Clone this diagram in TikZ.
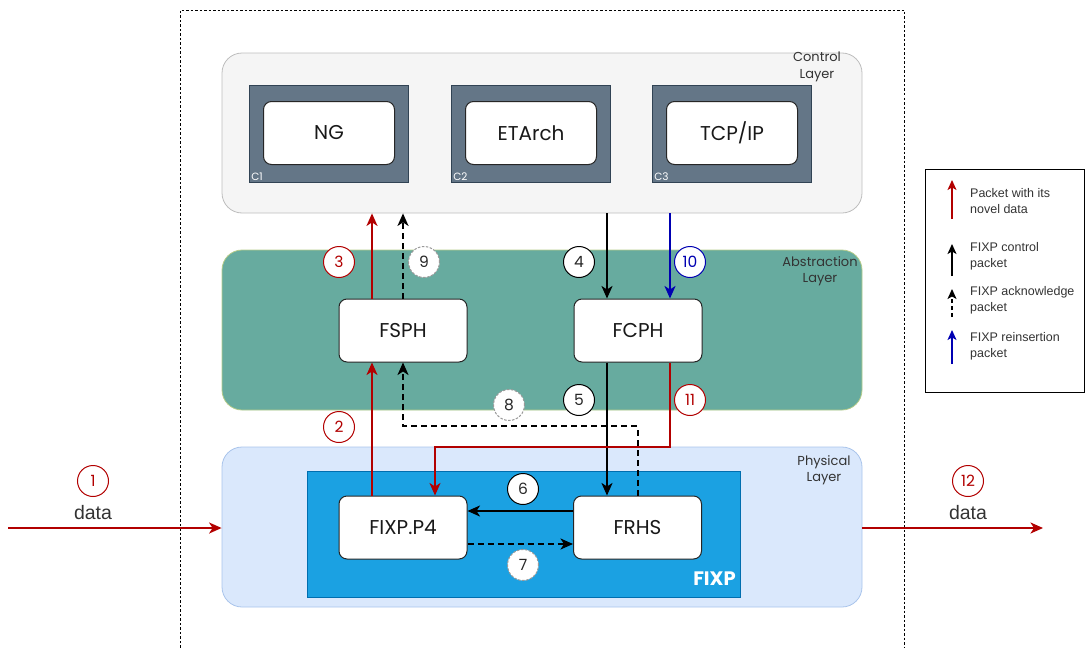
\documentclass[tikz,border=0pt]{standalone}
\usepackage{fontspec}
\setmainfont{Poppins}
\newfontfamily\legendfont{Liberation Sans}
\usetikzlibrary{arrows.meta,calc}

\definecolor{datared}{HTML}{B20000}
\definecolor{reinsblue}{HTML}{0000B2}
\definecolor{ctrlfill}{HTML}{F5F5F5}
\definecolor{ctrlline}{HTML}{BDBDBD}
\definecolor{absfill}{HTML}{67AB9F}
\definecolor{absline}{HTML}{B5CC8A}
\definecolor{phyfill}{HTML}{DAE8FC}
\definecolor{phyline}{HTML}{A9C4EB}
\definecolor{fixpfill}{HTML}{1BA1E2}
\definecolor{fixpline}{HTML}{006EAF}
\definecolor{slate}{HTML}{647687}
\definecolor{slateline}{HTML}{314354}
\definecolor{labelgray}{HTML}{333333}

\tikzset{
  layer/.style={rounded corners=20pt, minimum width=640pt, minimum height=160pt,
    inner sep=0pt, line width=0.8pt},
  layerlabel/.style={align=center, text=labelgray, font=\fontsize{13}{16.5}\selectfont},
  slatebox/.style={fill=slate, draw=slateline, minimum width=159pt, minimum height=97pt,
    inner sep=0pt, line width=0.8pt},
  clabel/.style={anchor=south west, text=white, inner sep=2pt,
    font=\fontsize{10.5}{10.5}\selectfont},
  procbox/.style={draw=black!85, fill=white, rounded corners=8pt, minimum width=128pt,
    minimum height=63pt, inner sep=0pt, line width=1pt, text=black!90,
    font=\fontsize{20}{24}\selectfont},
  num/.style={circle, fill=white, minimum size=31pt, inner sep=0pt, line width=1pt,
    font=\fontsize{15.5}{15.5}\selectfont},
  numred/.style={num, draw=datared, text=datared},
  numblack/.style={num, draw=black, text=black!85},
  numblue/.style={num, draw=reinsblue, text=reinsblue},
  numdash/.style={num, draw=black!40, dash pattern=on 2.5pt off 1.5pt, text=black!85},
  flow/.style={line width=2pt, -{Stealth[length=12.5pt,width=11pt,inset=3.5pt]}},
  ctlflow/.style={flow, draw=black},
  dataflow/.style={flow, draw=datared},
  ackflow/.style={flow, draw=black, dash pattern=on 6pt off 4pt},
  reinsflow/.style={flow, draw=reinsblue},
  legarrow/.style={line width=1.4pt, -{Stealth[length=10pt,width=9pt,inset=2.5pt]}},
  legtext/.style={anchor=west, align=left, text=labelgray, inner sep=0pt,
    font=\legendfont\fontsize{12.5}{16}\selectfont},
  datatext/.style={text=labelgray, font=\legendfont\fontsize{19.5}{19.5}\selectfont},
}

\begin{document}
\begin{tikzpicture}[x=1pt, y=-1pt]
\useasboundingbox (0,0) rectangle (1085,648);

% system boundary
\draw[line width=0.8pt, dash pattern=on 2.5pt off 2pt] (180,670) -- (180,10) -- (904,10) -- (904,670);

% layers
\node[layer, fill=ctrlfill, draw=ctrlline] (ctrl) at (542,133) {};
\node[layer, fill=absfill, draw=absline] (abs) at (542,330) {};
\node[layer, fill=phyfill, draw=phyline] (phy) at (542,527) {};
\node[layerlabel] (ctrllbl) at (817,67) {Control\\Layer};
\node[layerlabel] (abslbl) at (820,271) {Abstraction\\Layer};
\node[layerlabel] (phylbl) at (824,470) {Physical\\Layer};

% control-layer architectures
\node[slatebox] (c1) at (329,133.5) {};
\node[slatebox] (c2) at (531,133.5) {};
\node[slatebox] (c3) at (732,133.5) {};
\node[procbox, minimum width=131pt] (ng) at (329,133) {NG};
\node[procbox, minimum width=131pt] (etarch) at (531,133) {ETArch};
\node[procbox, minimum width=131pt] (tcpip) at (732,133) {TCP/IP};
\node[clabel] (c1lbl) at (c1.south west) {C1};
\node[clabel] (c2lbl) at (c2.south west) {C2};
\node[clabel] (c3lbl) at (c3.south west) {C3};

% abstraction-layer handlers
\node[procbox] (fsph) at (403,330.5) {FSPH};
\node[procbox] (fcph) at (638,330.5) {FCPH};

% physical layer
\node[fill=fixpfill, draw=fixpline, line width=0.6pt, minimum width=433pt, minimum height=126pt,
  inner sep=0pt] (fixp) at (523.5,534) {};
\node[anchor=base east, text=white, inner sep=0pt,
  font=\fontsize{19.5}{19.5}\selectfont\bfseries] (fixplbl) at (736,585) {FIXP};
\node[procbox] (p4) at (403,527.5) {FIXP.P4};
\node[procbox] (frhs) at (637.5,527.5) {FRHS};

% helper coordinates for connector lanes
\coordinate (xa) at (372,0);
\coordinate (xb) at (607,0);
\coordinate (xc) at (670,0);
\coordinate (xd) at (435,0);
\coordinate (ya) at (0,426);
\coordinate (yr) at (0,447);
\coordinate (yu) at (0,511);
\coordinate (yl) at (0,544);
\coordinate (src) at (8,528);
\coordinate (sink) at (1043,528);

% connectors
\draw[dataflow] (p4.north -| xa) -- (fsph.south -| xa);
\draw[dataflow] (fsph.north -| xa) -- (ctrl.south -| xa);
\draw[ackflow] (frhs.north) -- (frhs.north |- ya) -| (fsph.south);
\draw[ackflow] (fsph.north) -- (ctrl.south -| fsph.north);
\draw[ctlflow] (ctrl.south -| xb) -- (fcph.north -| xb);
\draw[ctlflow] (fcph.south -| xb) -- (frhs.north -| xb);
\draw[reinsflow] (ctrl.south -| xc) -- (fcph.north -| xc);
\draw[dataflow] (fcph.south -| xc) -- (xc |- yr) -| (p4.north -| xd);
\draw[ctlflow] (frhs.west |- yu) -- (p4.east |- yu);
\draw[ackflow] (p4.east |- yl) -- (frhs.west |- yl);
\draw[dataflow] (src) -- (phy.west |- src);
\draw[dataflow] (phy.east |- sink) -- (sink);

% step numbers
\node[numred] (n1) at (93,481) {1};
\node[numred] (n2) at (339,427) {2};
\node[numred] (n3) at (339,262) {3};
\node[numblack] (n4) at (579,262) {4};
\node[numblack] (n5) at (579,400) {5};
\node[numblack] (n6) at (523,489) {6};
\node[numdash] (n7) at (523,565) {7};
\node[numdash] (n8) at (509,405) {8};
\node[numdash] (n9) at (424,262) {9};
\node[numblue] (n10) at (690,262) {10};
\node[numred] (n11) at (690,400) {11};
\node[numred] (n12) at (968,481) {12};
\node[datatext] (din) at (93,513) {data};
\node[datatext] (dout) at (968,513) {data};

% legend
\node[draw=black, line width=0.8pt, minimum width=159pt, minimum height=223pt, inner sep=0pt,
  anchor=north west] (legend) at (925,169) {};
\coordinate (l1a) at (952,219); \coordinate (l1b) at (952,180);
\coordinate (l2a) at (952,276); \coordinate (l2b) at (952,244);
\coordinate (l3a) at (952,317); \coordinate (l3b) at (952,289);
\coordinate (l4a) at (952,364); \coordinate (l4b) at (952,330);
\draw[legarrow, datared] (l1a) -- (l1b);
\draw[legarrow, black] (l2a) -- (l2b);
\draw[legarrow, black, dash pattern=on 4pt off 3pt] (l3a) -- (l3b);
\draw[legarrow, reinsblue] (l4a) -- (l4b);
\node[legtext] (lt1) at (970,201) {Packet with its\\novel data};
\node[legtext] (lt2) at (970,256) {FIXP control\\packet};
\node[legtext] (lt3) at (970,300) {FIXP acknowledge\\packet};
\node[legtext] (lt4) at (970,346) {FIXP reinsertion\\packet};
\end{tikzpicture}
\end{document}
